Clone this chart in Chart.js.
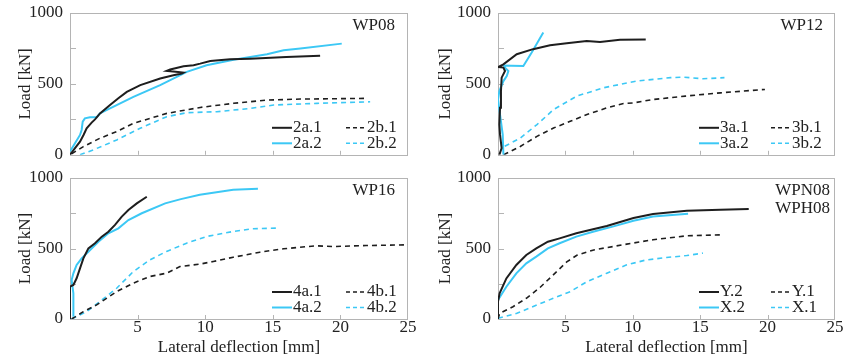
<!DOCTYPE html>
<html><head><meta charset="utf-8">
<script src="https://cdn.jsdelivr.net/npm/chart.js@4.4.1/dist/chart.umd.min.js"></script>
<style>
body{margin:0;background:#fff;width:843px;height:360px;overflow:hidden;position:relative}
canvas{position:absolute;display:block}
</style></head><body>
<canvas id="c1" width="420" height="165" style="left:0;top:0"></canvas>
<canvas id="c2" width="423" height="165" style="left:420px;top:0"></canvas>
<canvas id="c3" width="420" height="195" style="left:0;top:165px"></canvas>
<canvas id="c4" width="423" height="195" style="left:420px;top:165px"></canvas>
<script>
// ---- data: [lateral deflection mm, load kN] ----
const xTicks = [0, 5, 10, 15, 20, 25];
const yTicks = [0, 250, 500, 750, 1000];
const yLabels = [0, 500, 1000];

// WP08
const s2a1 = [[0,0],[0.37,47],[0.74,93],[1.0,140],[1.23,187],[1.6,227],[1.85,250],[2.22,292],[2.96,351],[3.6,400],[4.2,444],[5.2,491],[6.67,538],[7.65,561],[8.27,573],[8.4,580],[7.16,592],[7.41,601],[8.4,625],[9.14,632],[9.63,643],[10.37,662],[11.85,674],[13.33,678],[16,690],[18.5,699]];
const s2a2 = [[0,23],[0.37,82],[0.74,140],[0.86,175],[0.94,234],[1.1,257],[1.48,265],[1.98,265],[2.22,292],[2.96,327],[4.69,409],[6.67,491],[8.64,585],[10.1,632],[12.1,671],[14.57,709],[15.8,737],[17.04,749],[20.1,784]];
const s2b1 = [[0.12,7],[0.99,58],[2.22,117],[3.46,164],[4.69,222],[5.93,257],[7.16,292],[9.63,334],[12.1,363],[14.57,386],[17.04,393],[22,398]];
const s2b2 = [[0.74,0],[1.73,35],[3.46,105],[5.19,187],[7.16,269],[8.64,297],[10.86,304],[13.33,327],[15.06,351],[18.27,363],[22.2,374]];

// WP12
const s3a1 = [[0.1,0],[0.27,47],[0.15,142],[0.1,213],[0.15,331],[0.22,449],[0.27,544],[0.52,591],[0.4,615],[0.02,619],[0.4,638],[1.39,709],[2.6,745],[3.86,773],[5.1,787],[6.58,803],[7.57,795],[9.05,811],[10.96,813]];
const s3a2 = [[0.4,0],[0.35,142],[0.15,284],[0,390],[0.1,449],[0.4,520],[0.65,555],[0.77,591],[0.52,615],[0.45,630],[1.0,628],[1.88,626],[2.5,721],[3.36,863]];
const s3b1 = [[0.42,0],[1.65,59],[2.89,130],[4.12,189],[5.36,236],[6.6,284],[8.07,331],[9.31,362],[10.05,366],[11.5,390],[13.9,414],[16.5,437],[19.8,461]];
const s3b2 = [[0.5,60],[1.65,118],[2.89,213],[4.12,319],[5.85,414],[7.83,473],[10.3,520],[12.8,544],[13.75,548],[15.2,536],[16.8,544]];

// WP16
const s4a1 = [[0,0],[0,229],[0.25,241],[0.49,289],[0.74,359],[0.99,430],[1.36,501],[1.85,537],[2.35,584],[2.84,619],[3.33,667],[3.83,726],[4.32,773],[4.94,820],[5.68,867]];
const s4a2 = [[0.25,16],[0.25,182],[0.12,277],[0.25,324],[0.49,383],[0.86,430],[1.36,477],[2.1,548],[2.84,608],[3.58,643],[4.32,702],[5.31,750],[7.04,820],[8.2,850],[9.6,881],[12.07,917],[13.9,924]];
const s4b1 = [[0.12,0],[0.99,52],[1.97,100],[3.45,194],[4.68,254],[5.9,301],[7.14,325],[8.13,372],[9.6,389],[10.6,408],[12.07,438],[14.04,474],[15.8,498],[18.2,519],[19.5,514],[21.9,521],[25,526]];
const s4b2 = [[0.12,0],[1.23,52],[2.2,123],[3.45,218],[4.68,336],[5.9,419],[7.14,479],[8.62,538],[10.1,585],[12.07,621],[13.5,640],[15.5,645]];

// WPN08 / WPH08
const sY2 = [[0,5],[0,123],[0.12,182],[0.62,288],[1.36,383],[2.1,454],[2.84,501],[3.7,548],[4.57,572],[5.81,608],[7.05,636],[8.07,660],[10.05,716],[11.5,744],[14,768],[16.5,775],[18.6,780]];
const sX2 = [[0,135],[0.62,229],[1.36,324],[2.1,395],[2.84,442],[3.7,501],[4.57,537],[5.81,584],[7.05,619],[8.5,655],[10.05,697],[11.5,727],[14.1,746]];
const sY1 = [[0,0],[0.12,40],[1.11,87],[2.1,147],[3.1,222],[4.12,315],[5.1,405],[5.85,452],[7.1,490],[9.55,531],[11.5,562],[14,590],[16.7,597]];
const sX1 = [[0,5],[1.4,40],[2.9,100],[4.1,147],[5.36,194],[6.6,265],[8.07,325],[9.55,384],[11,419],[12.5,436],[14,450],[15.2,467]];

// ---- styling ----
const BLACK = '#1e1e1e';
const CYAN = '#3cc8f5';
const FONT = "'Liberation Serif', 'Times New Roman', serif";
const FSIZE = 17;
const TXT = '#222';
const FRAME = '#b4b4b4';

function ds(label, pts, color, dashed) {
  return {
    label, data: pts.map(p => ({x: p[0], y: p[1]})),
    borderColor: color, backgroundColor: color,
    borderWidth: dashed ? 1.6 : 2,
    borderDash: dashed ? [5, 4] : [],
    pointRadius: 0, tension: 0, fill: false
  };
}

const panelPlugin = {
  id: 'panel',
  beforeDatasetsDraw(chart) {
    const {ctx, chartArea: a, scales} = chart;
    ctx.save();
    ctx.strokeStyle = FRAME; ctx.lineWidth = 1;
    ctx.strokeRect(Math.round(a.left) + 0.5, Math.round(a.top) + 0.5,
      Math.round(a.right - a.left) - 1, Math.round(a.bottom - a.top));
    ctx.beginPath();
    yTicks.forEach(v => {
      if (v === 0 || v === 1000) return;
      const y = Math.round(scales.y.getPixelForValue(v)) + 0.5;
      ctx.moveTo(a.left, y); ctx.lineTo(a.left + 6, y);
    });
    xTicks.forEach(v => {
      if (v === 0 || v === 25) return;
      const x = Math.round(scales.x.getPixelForValue(v)) + 0.5;
      ctx.moveTo(x, a.bottom); ctx.lineTo(x, a.bottom - 4);
    });
    ctx.stroke();
    ctx.restore();
  },
  afterDraw(chart, args, opts) {
    const {ctx, chartArea: a} = chart;
    ctx.save();
    ctx.font = FSIZE + 'px ' + FONT;
    ctx.fillStyle = TXT;
    ctx.textBaseline = 'middle';
    ctx.textAlign = 'right';
    (opts.names || []).forEach((n, i) => {
      ctx.fillText(n, a.right - opts.nameRight, a.top + 13 + i * 18);
    });
    ctx.textAlign = 'left';
    const ds = chart.data.datasets;
    opts.legend.forEach((L, i) => {
      const col = i % 2, row = Math.floor(i / 2);
      const x0 = a.right - (col === 0 ? opts.col1 : opts.col2);
      const y = a.bottom - 27 + row * 15.5;
      const d = ds[L];
      ctx.strokeStyle = d.borderColor;
      ctx.lineWidth = d.borderDash.length ? 1.6 : 2;
      ctx.setLineDash(d.borderDash.length ? [4, 3] : []);
      ctx.beginPath(); ctx.moveTo(x0, y); ctx.lineTo(x0 + 20, y); ctx.stroke();
      ctx.fillText(d.label, x0 + 21, y);
    });
    ctx.restore();
  }
};

const hiddenGrid = (len) => ({display: true, color: 'rgba(0,0,0,0)', drawOnChartArea: false,
                              drawTicks: len > 0, tickLength: len});

function makeChart(id, datasets, cfg) {
  return new Chart(document.getElementById(id), {
    type: 'line',
    data: {datasets},
    plugins: [panelPlugin],
    options: {
      responsive: false, animation: false, devicePixelRatio: 1,
      layout: {padding: {left: 0, right: cfg.padR, top: 13, bottom: 0}},
      plugins: {
        legend: {display: false}, tooltip: {enabled: false},
        panel: {names: cfg.names, nameRight: cfg.nameRight, legend: [0, 2, 1, 3], col1: cfg.col1, col2: cfg.col2}
      },
      scales: {
        x: {
          type: 'linear', min: 0, max: 25,
          afterBuildTicks: s => { s.ticks = xTicks.map(v => ({value: v})); },
          afterFit: s => { s.height = cfg.xH; },
          grid: hiddenGrid(0), border: {display: false},
          ticks: {display: cfg.showX, padding: -2, color: TXT, font: {family: FONT, size: FSIZE},
                  maxRotation: 0, autoSkip: false,
                  callback: v => (v === 0 ? '' : String(v))},
          title: {display: cfg.showX, text: 'Lateral deflection [mm]', color: TXT,
                  font: {family: FONT, size: FSIZE}, padding: {top: 0, bottom: 2}}
        },
        y: {
          type: 'linear', min: 0, max: 1000,
          afterBuildTicks: s => { s.ticks = yTicks.map(v => ({value: v})); },
          afterFit: s => { s.width = cfg.yW; },
          grid: hiddenGrid(7), border: {display: false},
          ticks: {padding: 0, color: TXT, font: {family: FONT, size: FSIZE},
                  callback: v => (yLabels.includes(v) ? String(v) : '')},
          title: {display: true, text: 'Load [kN]', color: TXT,
                  font: {family: FONT, size: FSIZE}, padding: {top: 15, bottom: 0}}
        }
      }
    }
  });
}

makeChart('c1', [
  ds('2a.1', s2a1, BLACK, false), ds('2a.2', s2a2, CYAN, false),
  ds('2b.1', s2b1, BLACK, true), ds('2b.2', s2b2, CYAN, true)
], {padR: 12, xH: 10, yW: 70, showX: false, names: ['WP08'], nameRight: 13, col1: 136, col2: 62});

makeChart('c2', [
  ds('3a.1', s3a1, BLACK, false), ds('3a.2', s3a2, CYAN, false),
  ds('3b.1', s3b1, BLACK, true), ds('3b.2', s3b2, CYAN, true)
], {padR: 8, xH: 10, yW: 78, showX: false, names: ['WP12'], nameRight: 12, col1: 136, col2: 64});

makeChart('c3', [
  ds('4a.1', s4a1, BLACK, false), ds('4a.2', s4a2, CYAN, false),
  ds('4b.1', s4b1, BLACK, true), ds('4b.2', s4b2, CYAN, true)
], {padR: 12, xH: 41, yW: 70, showX: true, names: ['WP16'], nameRight: 13, col1: 136, col2: 62});

makeChart('c4', [
  ds('Y.2', sY2, BLACK, false), ds('X.2', sX2, CYAN, false),
  ds('Y.1', sY1, BLACK, true), ds('X.1', sX1, CYAN, true)
], {padR: 8, xH: 41, yW: 78, showX: true, names: ['WPN08', 'WPH08'], nameRight: 5, col1: 136, col2: 64});
</script>
</body></html>
